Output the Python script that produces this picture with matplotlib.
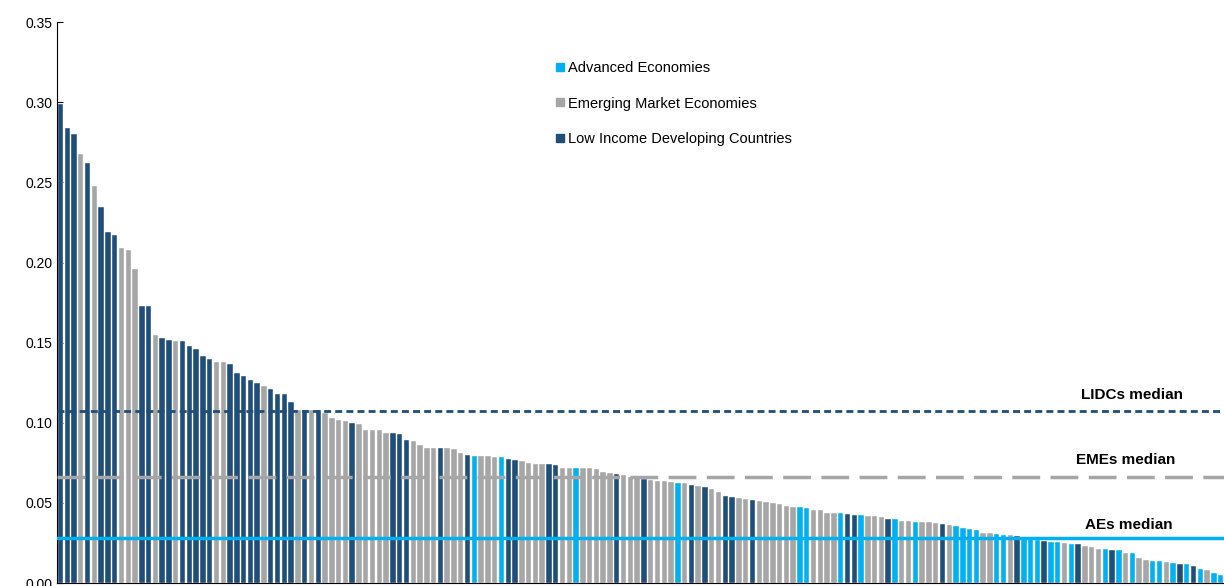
import matplotlib
matplotlib.use("Agg")
import matplotlib.pyplot as plt
from matplotlib.lines import Line2D

plt.rcParams["font.family"] = ["Liberation Sans", "DejaVu Sans"]

# group codes: D = LIDC, G = EME, A = AE
groups = list(
    "DDDGDGDDDGGGDDGDDGDDDDDGGDDDDDGDDDDGDGDGGGG"
    "DGGGGGDDDGGGGDGGGDAGGGADDGGGGDDGGAGGGGGDG"
    "GGDGGGGAGDGDGGDDGGDGGGGGGAAGGGGADDAGGGDAGGA"
    "GGGDGAAAAGGAAGDAAADAAGADGGGADAGAGGAAGADADAGAA"
)
values = [
    0.299, 0.284, 0.280, 0.268, 0.262, 0.248, 0.235, 0.219, 0.217, 0.209,
    0.208, 0.196, 0.173, 0.173, 0.155, 0.153, 0.152, 0.151, 0.151, 0.148,
    0.146, 0.142, 0.140, 0.138, 0.138, 0.137, 0.131, 0.129, 0.127, 0.125,
    0.123, 0.121, 0.118, 0.118, 0.113, 0.108, 0.108, 0.108, 0.108, 0.106,
    0.103, 0.102, 0.101, 0.0998, 0.0995, 0.0957, 0.0957, 0.0953, 0.0936, 0.0936,
    0.0928, 0.0892, 0.0886, 0.0859, 0.0846, 0.0846, 0.0846, 0.0842, 0.0834, 0.0809,
    0.0798, 0.0796, 0.0792, 0.0792, 0.0786, 0.0786, 0.0777, 0.0771, 0.0759, 0.0752,
    0.0744, 0.0744, 0.0742, 0.0734, 0.0721, 0.0721, 0.0721, 0.0719, 0.0719, 0.0711,
    0.0694, 0.0684, 0.0680, 0.0676, 0.0663, 0.0653, 0.0649, 0.0643, 0.0639, 0.0637,
    0.0633, 0.0627, 0.0627, 0.0611, 0.0607, 0.0598, 0.0588, 0.0569, 0.0542, 0.0538,
    0.0532, 0.0523, 0.0521, 0.0513, 0.0509, 0.0500, 0.0494, 0.0481, 0.0473, 0.0473,
    0.0469, 0.0456, 0.0454, 0.0436, 0.0436, 0.0436, 0.0433, 0.0424, 0.0422, 0.0416,
    0.0416, 0.0410, 0.0401, 0.0397, 0.0389, 0.0389, 0.0382,
    0.0379, 0.0379, 0.0377, 0.0369, 0.0365, 0.0358, 0.0344, 0.0340, 0.0331, 0.0314,
    0.0310, 0.0304, 0.0300, 0.0298, 0.0292, 0.0279, 0.0273, 0.0266, 0.0260, 0.0256,
    0.0256, 0.0252, 0.0241, 0.0241, 0.0231, 0.0225, 0.0214, 0.0210, 0.0206, 0.0204,
    0.0185, 0.0185, 0.0156, 0.0146, 0.0137, 0.0135, 0.0129, 0.0127, 0.0121, 0.0116,
    0.0104, 0.0089, 0.0083, 0.0060, 0.0052,
]
n = min(len(groups), len(values))
groups, values = groups[:n], values[:n]

medians = {"LIDCs": 0.1073, "EMEs": 0.0664, "AEs": 0.0281}

COLOURS = {"A": "#00B0F0", "G": "#A6A6A6", "D": "#1F4E79"}
LABELS = {"A": "Advanced Economies", "G": "Emerging Market Economies",
          "D": "Low Income Developing Countries"}

fig = plt.figure(figsize=(12.24, 5.86), dpi=100)
ax = fig.add_axes([0.0466, 0.005, 0.9534, 0.957])

ax.bar(range(n), values, width=0.8, color=[COLOURS[g] for g in groups],
       edgecolor="white", linewidth=0.3, zorder=2)

ax.axhline(medians["LIDCs"], color="#1F4E79", lw=2, ls=(0, (2.5, 1.5)), zorder=3)
ax.axhline(medians["EMEs"], color="#A6A6A6", lw=2.5, ls=(0, (8, 3)), zorder=3)
ax.axhline(medians["AEs"], color="#00B0F0", lw=2.5, zorder=3)

ax.text(n - 14, medians["LIDCs"] + 0.006, "LIDCs median", fontsize=11,
        fontweight="bold", ha="center", va="bottom")
ax.text(n - 15, medians["EMEs"] + 0.006, "EMEs median", fontsize=11,
        fontweight="bold", ha="center", va="bottom")
ax.text(n - 14.5, medians["AEs"] + 0.004, "AEs median", fontsize=11,
        fontweight="bold", ha="center", va="bottom")

ax.set_xlim(-0.5, n - 0.5)
ax.set_ylim(0, 0.35)
ax.set_yticks([0.0, 0.05, 0.10, 0.15, 0.20, 0.25, 0.30, 0.35])
ax.yaxis.set_major_formatter(plt.FuncFormatter(lambda v, _: f"{v:.2f}"))
ax.tick_params(axis="y", labelsize=10, direction="in", length=4)
ax.set_xticks([])
ax.spines[["top", "right"]].set_visible(False)

handles = [Line2D([], [], marker="s", ls="", color=COLOURS[k], markersize=6,
                  label=LABELS[k]) for k in "AGD"]
ax.legend(handles=handles, loc="upper left", bbox_to_anchor=(0.415, 0.955),
          frameon=False, fontsize=10.5, handletextpad=0.1, labelspacing=1.5,
          handlelength=0.8)

fig.savefig("out.png", dpi=100)
